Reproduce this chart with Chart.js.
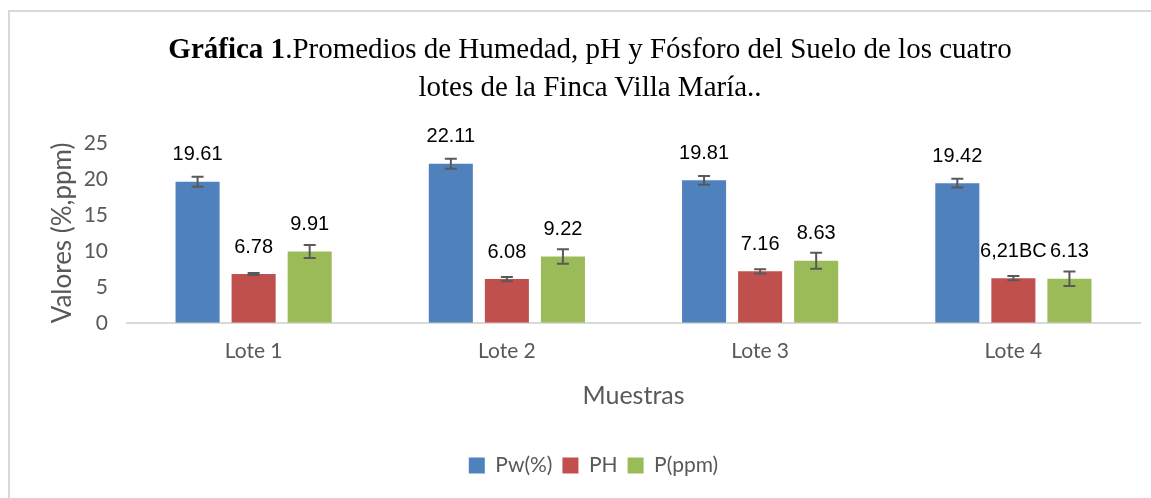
<!DOCTYPE html>
<html>
<head>
<meta charset="utf-8">
<script src="https://cdn.jsdelivr.net/npm/chart.js@4"></script>
<style>
  body { margin: 0; background: #fff; }
  #wrap { position: relative; width: 1151px; height: 498px; }
  #marco { position: absolute; left: 8px; top: 10px; width: 1160px; height: 500px; border: 2px solid #d9d9d9; box-sizing: border-box; }
  #titulo { position: absolute; left: 0; top: 29px; width: 1180px; text-align: center; font-family: "Liberation Serif", serif; font-size: 29px; line-height: 38px; color: #000; }
  canvas { position: absolute; left: 0; top: 0; }
</style>
</head>
<body>
<div id="wrap">
  <div id="marco"></div>
  <canvas id="grafica" width="1151" height="498"></canvas>
  <div id="titulo"><b>Gráfica 1</b>.Promedios de Humedad, pH y Fósforo del Suelo de los cuatro<br>lotes de la Finca Villa María..</div>
</div>
<script>
const lotes = ["Lote 1", "Lote 2", "Lote 3", "Lote 4"];
const humedad = [19.61, 22.11, 19.81, 19.42];
const ph = [6.78, 6.08, 7.16, 6.21];
const fosforo = [9.91, 9.22, 8.63, 6.13];
const errHumedad = [0.7, 0.7, 0.6, 0.6];
const errPh = [0.15, 0.3, 0.3, 0.3];
const errFosforo = [0.9, 1.0, 1.1, 1.0];
const etiquetasPh = ["6.78", "6.08", "7.16", "6,21BC"];

const gris = "#595959";

// barras de error y etiquetas de valor
const extras = {
  id: "extras",
  afterDatasetsDraw(chart) {
    const ctx = chart.ctx;
    const y = chart.scales.y;
    chart.data.datasets.forEach((ds, i) => {
      const meta = chart.getDatasetMeta(i);
      meta.data.forEach((bar, j) => {
        const v = ds.data[j];
        const e = ds.errores[j];
        const arriba = y.getPixelForValue(v + e);
        const abajo = y.getPixelForValue(v - e);
        ctx.save();
        ctx.strokeStyle = gris;
        ctx.lineWidth = 2;
        ctx.beginPath();
        ctx.moveTo(bar.x, arriba); ctx.lineTo(bar.x, abajo);
        ctx.moveTo(bar.x - 6, arriba); ctx.lineTo(bar.x + 6, arriba);
        ctx.moveTo(bar.x - 6, abajo); ctx.lineTo(bar.x + 6, abajo);
        ctx.stroke();
        ctx.fillStyle = "#000";
        ctx.font = "20px 'Liberation Sans'";
        ctx.textAlign = "center";
        ctx.textBaseline = "middle";
        ctx.fillText(ds.etiquetas[j], bar.x, y.getPixelForValue(v) - 27);
        ctx.restore();
      });
    });
  }
};

new Chart(document.getElementById("grafica"), {
  type: "bar",
  data: {
    labels: lotes,
    datasets: [
      { label: "Pw(%)", data: humedad, errores: errHumedad, etiquetas: humedad.map(v => v.toFixed(2)), backgroundColor: "#4f81bd" },
      { label: "PH", data: ph, errores: errPh, etiquetas: etiquetasPh, backgroundColor: "#c0504d" },
      { label: "P(ppm)", data: fosforo, errores: errFosforo, etiquetas: fosforo.map(v => v.toFixed(2)), backgroundColor: "#9bbb59" }
    ]
  },
  options: {
    responsive: false,
    animation: false,
    categoryPercentage: 0.664,
    barPercentage: 0.786,
    layout: { padding: { top: 143, left: 47, right: 11, bottom: 12 } },
    plugins: {
      legend: {
        position: "bottom",
        labels: { boxWidth: 16, boxHeight: 16, color: gris, font: { family: "Lato", size: 21 }, padding: 10 }
      },
      tooltip: { enabled: false }
    },
    scales: {
      x: {
        grid: { display: false, drawTicks: false },
        border: { color: "#d9d9d9", width: 2 },
        ticks: { color: gris, font: { family: "Lato", size: 21 }, padding: 16 },
        title: { display: true, text: "Muestras", color: gris, font: { family: "Lato", size: 25 }, padding: { top: 1, bottom: 34 } }
      },
      y: {
        min: 0, max: 25,
        grid: { display: false, drawTicks: false },
        border: { display: false },
        ticks: { stepSize: 5, color: gris, font: { family: "Lato", size: 21 }, padding: 19 },
        title: { display: true, text: "Valores (%,ppm)", color: gris, font: { family: "Lato", size: 26 }, padding: { top: 0, bottom: 0 } },
        afterFit(escala) { escala.width = 80; }
      }
    }
  },
  plugins: [extras]
});
</script>
</body>
</html>
